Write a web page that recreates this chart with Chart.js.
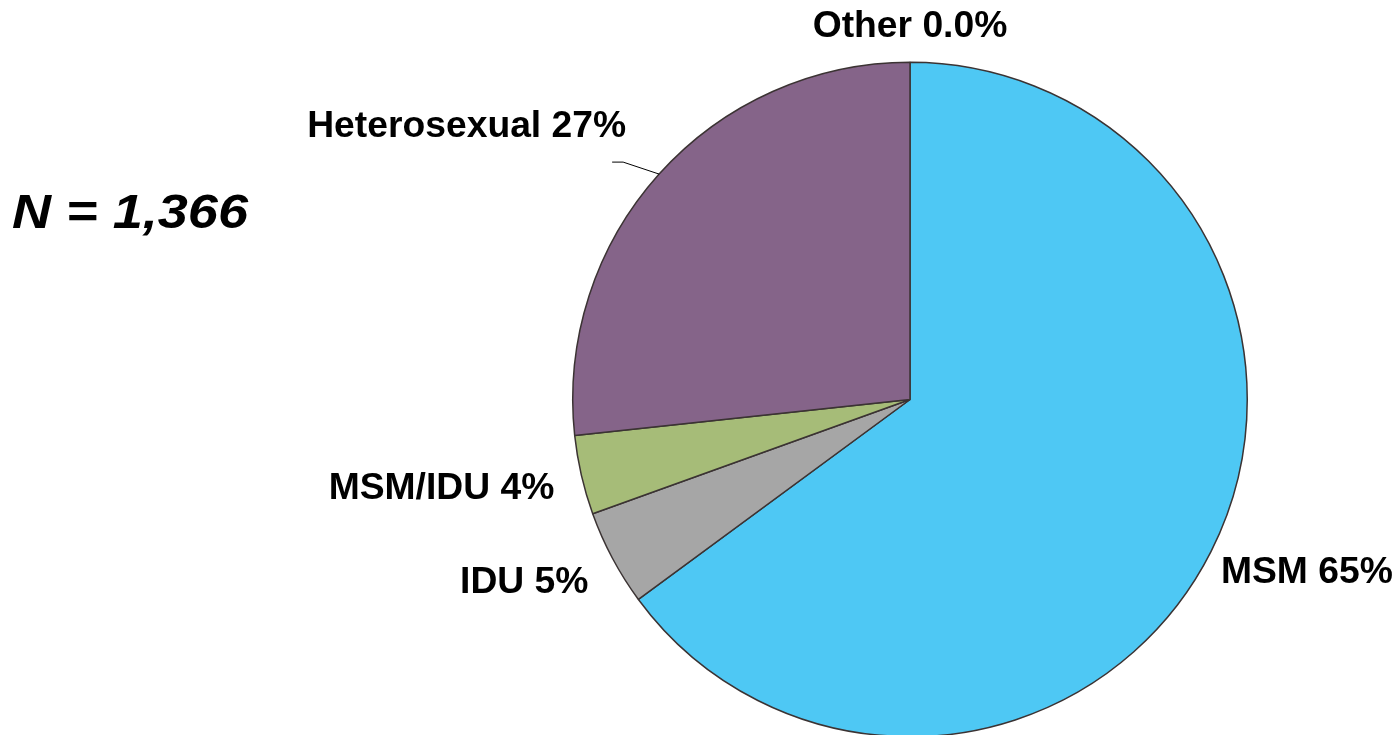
<!DOCTYPE html>
<html>
<head>
<meta charset="utf-8">
<script src="https://cdn.jsdelivr.net/npm/chart.js@4"></script>
<style>
    body { margin: 0; overflow: hidden; background: #fff; }
    #wrap { position: absolute; left: 0; top: 0; width: 1393px; height: 760px; }
</style>
</head>
<body>
<div id="wrap"><canvas id="pie" width="1393" height="760"></canvas></div>
<script>
// transmission categories, percent of N = 1,366
var categories = ["MSM", "IDU", "MSM/IDU", "Heterosexual", "Other"];
var values = [64.9, 4.6, 3.8, 26.7, 0.0];
var valueLabels = ["65%", "5%", "4%", "27%", "0.0%"];
var colors = ["#4EC8F4", "#A6A6A6", "#A6BC78", "#856489", "#FFFFFF"];
var totalText = "N = 1,366";

// where each label sits relative to the outer middle of its slice
var labelOffsets = [
    {dx: 10, dy: 31, align: "left"},
    {dx: -24, dy: 35, align: "right"},
    {dx: -27, dy: 24, align: "right"},
    {dx: -33, dy: -37, align: "right", leader: true},
    {dx: 0, dy: -25, align: "center"}
];

// text drawn a little wider than the font, like the original slide
function wideText(ctx, text, x, y, align, sx) {
    ctx.save();
    ctx.translate(x, y);
    ctx.scale(sx, 1);
    ctx.textAlign = align;
    ctx.fillText(text, 0, 0);
    ctx.restore();
}

var labelPlugin = {
    id: "sliceLabels",
    afterDraw: function (chart) {
        let ctx = chart.ctx;
        let arcs = chart.getDatasetMeta(0).data;
        ctx.save();
        ctx.fillStyle = "#000";
        ctx.font = "bold 36px 'Liberation Sans', Arial, sans-serif";
        ctx.textBaseline = "alphabetic";
        arcs.forEach(function (arc, i) {
            let mid = (arc.startAngle + arc.endAngle) / 2;
            let px = arc.x + Math.cos(mid) * arc.outerRadius;
            let py = arc.y + Math.sin(mid) * arc.outerRadius;
            let o = labelOffsets[i];
            let tx = px + o.dx;
            let ty = py + o.dy;
            if (o.leader) {
                ctx.strokeStyle = "#000";
                ctx.lineWidth = 1;
                ctx.beginPath();
                ctx.moveTo(px, py);
                ctx.lineTo(tx - 3, py - 12);
                ctx.lineTo(tx - 14, py - 12);
                ctx.stroke();
            }
            wideText(ctx, categories[i] + " " + valueLabels[i], tx, ty, o.align, 1.035);
        });
        ctx.font = "italic bold 48px 'Liberation Sans', Arial, sans-serif";
        let w = ctx.measureText(totalText).width;
        wideText(ctx, totalText, 12, 228, "left", 236 / w);
        ctx.restore();
    }
};

new Chart(document.getElementById("pie"), {
    type: 'pie',
    data: {
        labels: categories,
        datasets: [
            {
                data: values,
                backgroundColor: colors,
                borderColor: "#3B3333",
                borderWidth: 1.5
            }
        ]
    },
    options: {
        responsive: false,
        animation: false,
        layout: {
            padding: {left: 572, right: 145, top: 61, bottom: 22}
        },
        plugins: {
            legend: {
                display: false
            },
            tooltip: {
                enabled: false
            }
        }
    },
    plugins: [labelPlugin]
});
</script>
</body>
</html>
